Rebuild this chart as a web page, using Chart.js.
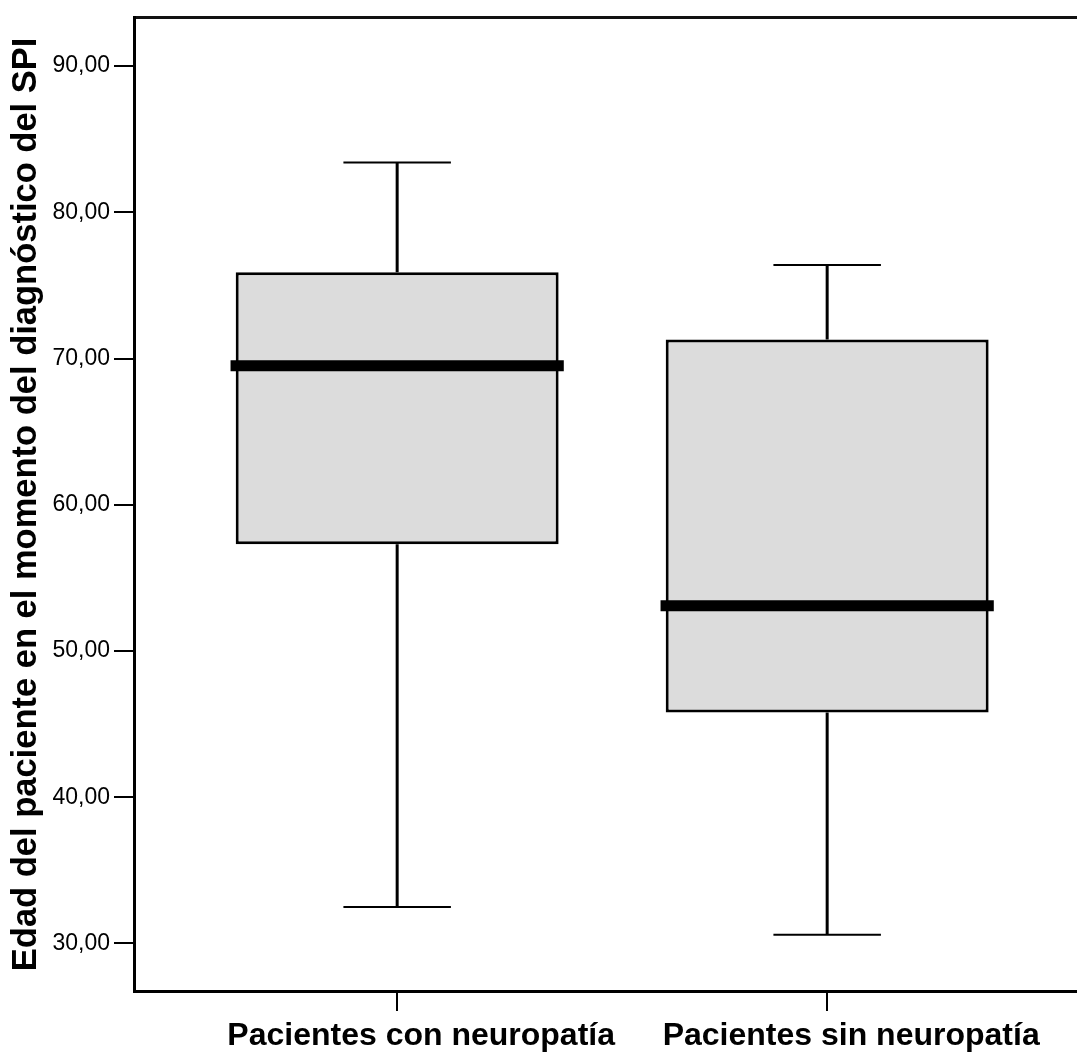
<!DOCTYPE html>
<html>
<head>
<meta charset="utf-8">
<script src="https://cdn.jsdelivr.net/npm/chart.js@4.4.0/dist/chart.umd.min.js"></script>
<style>
  html, body { margin: 0; padding: 0; background: #fff; }
  #wrap { width: 1077px; height: 1056px; }
</style>
</head>
<body>
<div id="wrap"><canvas id="boxChart"></canvas></div>
<script>
// Datos del diagrama de cajas
const categorias = ['Pacientes con neuropatía', 'Pacientes sin neuropatía'];
const minimo  = [32.5, 30.6];
const q1      = [57.3, 45.8];
const mediana = [69.5, 53.1];
const q3      = [75.9, 71.3];
const maximo  = [83.4, 76.4];
const ticksY  = [30, 40, 50, 60, 70, 80, 90];

const posX = categorias.map((c, i) => i + 1);
const fuente = 'Liberation Sans, Arial, Helvetica, sans-serif';

// linea simple entre dos puntos (bigotes, topes y medianas)
function linea(puntos, grosor, orden) {
  return {
    type: 'line',
    data: puntos,
    borderColor: '#000',
    borderWidth: grosor,
    borderCapStyle: 'butt',
    pointRadius: 0,
    fill: false,
    order: orden,
    xAxisID: 'x',
    yAxisID: 'y'
  };
}

const datasets = [];

// medianas (encima de todo)
posX.forEach((p, i) => {
  datasets.push(linea([{ x: p - 0.3875, y: mediana[i] }, { x: p + 0.3875, y: mediana[i] }], 11, 0));
});

// bigotes y topes
posX.forEach((p, i) => {
  datasets.push(linea([{ x: p, y: q3[i] }, { x: p, y: maximo[i] }], 3, 1));
  datasets.push(linea([{ x: p, y: q1[i] }, { x: p, y: minimo[i] }], 3, 1));
  datasets.push(linea([{ x: p - 0.125, y: maximo[i] }, { x: p + 0.125, y: maximo[i] }], 2, 1));
  datasets.push(linea([{ x: p - 0.125, y: minimo[i] }, { x: p + 0.125, y: minimo[i] }], 2, 1));
});

// cajas
datasets.push({
  type: 'bar',
  data: posX.map((p, i) => ({ x: p, y: [q1[i], q3[i]] })),
  backgroundColor: '#dcdcdc',
  borderColor: '#000',
  borderWidth: 3,
  borderSkipped: false,
  categoryPercentage: 1,
  barPercentage: 0.751,
  order: 2,
  xAxisID: 'x',
  yAxisID: 'y'
});

const ctx = document.getElementById('boxChart').getContext('2d');
const grafico = new Chart(ctx, {
  type: 'bar',
  data: { datasets: datasets },
  options: {
    responsive: true,
    maintainAspectRatio: false,
    animation: false,
    events: [],
    layout: { padding: 0 },
    plugins: { legend: { display: false }, tooltip: { enabled: false } },
    scales: {
      x: {
        type: 'linear',
        position: 'bottom',
        offset: false,
        min: 0.388,
        max: 2.581,
        afterBuildTicks: s => { s.ticks = posX.map(v => ({ value: v })); },
        afterFit: s => { s.height = 65; },
        ticks: {
          callback: (v, i) => categorias[i],
          color: '#000',
          padding: 6,
          labelOffset: 24,
          maxRotation: 0,
          autoSkip: false,
          font: { family: fuente, size: 32, weight: 'bold' }
        },
        grid: { display: true, offset: false, drawOnChartArea: false, drawTicks: true, tickLength: 20, color: '#000', lineWidth: 2 },
        border: { display: true, color: '#000', width: 3 }
      },
      xTop: {
        type: 'linear',
        position: 'top',
        offset: false,
        min: 0.388,
        max: 2.581,
        afterFit: s => { s.height = 14; },
        ticks: { display: false },
        grid: { display: false, offset: false },
        border: { display: true, color: '#111', width: 3 }
      },
      y: {
        type: 'linear',
        position: 'left',
        min: 26.75,
        max: 93.3,
        afterBuildTicks: s => { s.ticks = ticksY.map(v => ({ value: v })); },
        afterFit: s => { s.width = 134; },
        ticks: {
          callback: v => v.toFixed(2).replace('.', ','),
          color: '#000',
          padding: 4,
          font: { family: fuente, size: 23 }
        },
        grid: { display: true, drawOnChartArea: false, drawTicks: true, tickLength: 20, color: '#000', lineWidth: 2 },
        border: { display: true, color: '#000', width: 3 },
        title: {
          display: true,
          text: 'Edad del paciente en el momento del diagnóstico del SPI',
          color: '#000',
          padding: { top: 6, bottom: 0 },
          font: { family: fuente, size: 34.5, weight: 'bold' }
        }
      }
    }
  }
});
</script>
</body>
</html>
